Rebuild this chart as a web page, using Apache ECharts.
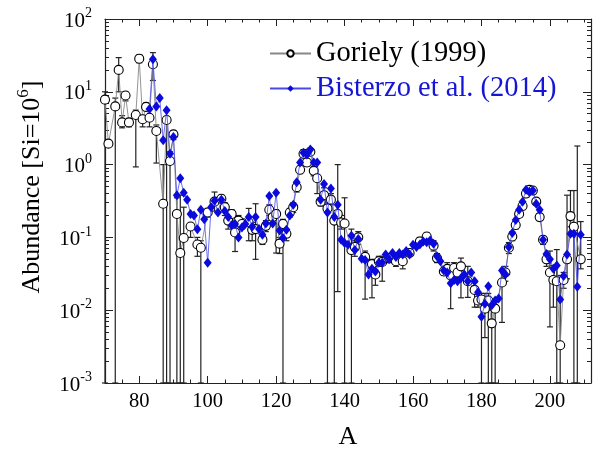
<!DOCTYPE html>
<html>
<head>
<meta charset="utf-8">
<script src="https://cdn.jsdelivr.net/npm/echarts@6/dist/echarts.min.js"></script>
<style>
  html, body { margin: 0; padding: 0; background: #fff; }
  #main { width: 597px; height: 455px; }
</style>
</head>
<body>
<div id="main"></div>
<script>
// mass numbers and abundances
var gorielyA = [70, 71, 73, 74, 75, 76, 77, 79, 80, 81, 82, 83, 84, 85, 87, 88, 89, 90, 91, 92,
  93, 95, 97, 98, 100, 102, 104, 105, 106, 107, 108, 109, 110, 112, 113, 114, 116, 117, 118, 119,
  120, 121, 122, 123, 124, 125, 126, 127, 128, 129, 130, 131, 132, 133, 134, 135, 136, 137, 138, 139,
  140, 142, 143, 144, 146, 148, 149, 150, 151, 153, 155, 157, 159, 162, 164, 166, 167, 169, 170, 171,
  172, 173, 174, 176, 178, 179, 180, 181, 182, 183, 184, 186, 187, 188, 189, 190, 191, 192, 193, 194,
  195, 196, 197, 198, 199, 200, 201, 202, 203, 204, 205, 206, 207, 209];
var gorielyY = [7.8, 1.94, 6.3, 20, 3.8, 8.9, 3.8, 4.8, 28.5, 4.2, 6.2, 4.4, 23.9, 2.9, 0.29, 4.1, 1.12, 2.6, 0.21, 0.061,
  0.098, 0.141, 0.080, 0.072, 0.22, 0.31, 0.34, 0.26, 0.17, 0.21, 0.117, 0.17, 0.153, 0.16, 0.127, 0.13, 0.093, 0.144, 0.24, 0.19,
  0.21, 0.082, 0.153, 0.112, 0.22, 0.26, 0.49, 0.85, 1.41, 1.07, 1.5, 0.82, 0.65, 0.31, 0.38, 0.25, 0.33, 0.17, 0.21, 0.16,
  0.155, 0.067, 0.074, 0.10, 0.054, 0.043, 0.031, 0.047, 0.046, 0.052, 0.047, 0.047, 0.061, 0.088, 0.103, 0.077, 0.052, 0.034, 0.037, 0.030,
  0.038, 0.033, 0.040, 0.025, 0.019, 0.0136, 0.014, 0.0105, 0.0136, 0.0066, 0.0105, 0.024, 0.033, 0.072, 0.103, 0.148, 0.21, 0.27, 0.40, 0.45,
  0.44, 0.31, 0.19, 0.093, 0.05, 0.033, 0.026, 0.025, 0.0033, 0.026, 0.05, 0.196, 0.14, 0.05];

// Goriely error bars: [A, low, high]
var gorielyErr = [
  [70, 0.001, 10], [73, 0.001, 8.2], [74, 10, 29.5], [75, 3.2, 4.7], [76, 7.5, 10], [77, 3.3, 4.3],
  [79, 0.93, 5.6], [80, 25, 32], [81, 3.3, 4.7], [82, 5.5, 7], [83, 3.3, 4.5], [84, 14.3, 34.5],
  [85, 1.05, 3.5], [87, 0.001, 1.0], [88, 0.001, 4.5], [89, 0.001, 1.5], [90, 2.2, 2.9], [91, 0.001, 0.35],
  [92, 0.001, 0.38], [93, 0.001, 0.26], [95, 0.1, 0.155], [97, 0.055, 0.1], [98, 0.001, 0.09], [100, 0.19, 0.25],
  [102, 0.23, 0.42], [104, 0.3, 0.38], [105, 0.2, 0.3], [106, 0.13, 0.2], [107, 0.16, 0.24], [108, 0.064, 0.13],
  [109, 0.14, 0.2], [110, 0.13, 0.18], [112, 0.09, 0.25], [113, 0.09, 0.16], [114, 0.05, 0.29], [116, 0.08, 0.1],
  [117, 0.12, 0.17], [118, 0.2, 0.28], [119, 0.16, 0.22], [120, 0.061, 0.24], [121, 0.06, 0.1], [122, 0.001, 0.177],
  [123, 0.09, 0.13], [124, 0.19, 0.25], [125, 0.22, 0.3], [126, 0.42, 0.56], [127, 0.75, 0.95], [128, 1.25, 1.6],
  [129, 0.95, 1.2], [131, 0.7, 0.95], [132, 0.4, 0.7], [133, 0.27, 0.35], [134, 0.3, 0.48], [135, 0.001, 0.3],
  [136, 0.28, 0.4], [137, 0.001, 0.2], [138, 0.018, 1.0], [139, 0.13, 0.2], [140, 0.001, 0.35], [142, 0.001, 0.13],
  [143, 0.055, 0.09], [144, 0.08, 0.12], [146, 0.0142, 0.065], [148, 0.0148, 0.05], [149, 0.022, 0.036], [150, 0.04, 0.055],
  [151, 0.025, 0.055], [153, 0.045, 0.06], [155, 0.04, 0.055], [157, 0.037, 0.055], [159, 0.055, 0.07], [162, 0.08, 0.1],
  [164, 0.09, 0.115], [166, 0.065, 0.09], [167, 0.045, 0.06], [169, 0.03, 0.04], [170, 0.03, 0.045], [171, 0.0105, 0.038],
  [172, 0.03, 0.045], [173, 0.028, 0.04], [174, 0.0148, 0.052], [176, 0.015, 0.04], [178, 0.011, 0.024], [179, 0.011, 0.017],
  [180, 0.001, 0.017], [181, 0.0042, 0.017], [182, 0.001, 0.017], [183, 0.001, 0.01], [184, 0.001, 0.013], [186, 0.0068, 0.035],
  [187, 0.025, 0.04], [188, 0.06, 0.085], [189, 0.09, 0.12], [190, 0.13, 0.165], [191, 0.19, 0.23], [192, 0.24, 0.3],
  [193, 0.36, 0.44], [195, 0.4, 0.48], [196, 0.28, 0.34], [197, 0.17, 0.21], [198, 0.08, 0.1], [199, 0.04, 0.06],
  [200, 0.0059, 0.065], [201, 0.011, 0.041], [202, 0.001, 0.068], [203, 0.001, 0.03], [204, 0.02, 0.033], [205, 0.027, 0.38],
  [206, 0.14, 0.44], [207, 0.001, 0.44], [208, 0.001, 1.8], [209, 0.037, 0.165]
];

var bisterzoA = [83, 84, 85, 86, 87, 88, 89, 90, 91, 92, 93, 94, 95, 96, 97, 98, 99, 100, 101, 102,
  103, 104, 105, 106, 107, 108, 109, 110, 111, 112, 113, 114, 115, 116, 117, 118, 119, 120, 121, 122,
  123, 124, 125, 126, 127, 128, 129, 130, 131, 132, 133, 134, 135, 136, 137, 138, 139, 140, 141, 142,
  143, 144, 145, 146, 147, 148, 149, 150, 151, 152, 153, 154, 155, 156, 157, 158, 159, 160, 161, 162,
  163, 164, 165, 166, 167, 168, 169, 170, 171, 172, 173, 174, 175, 176, 177, 178, 179, 180, 181, 182,
  183, 184, 185, 186, 187, 188, 189, 190, 191, 192, 193, 194, 195, 196, 197, 198, 199, 200, 201, 202,
  203, 204, 205, 206, 207, 208, 209];
var bisterzoY = [5.8, 27.9, 6.3, 8.2, 2.16, 5.6, 1.41, 2.4, 0.38, 0.65, 0.41, 0.33, 0.21, 0.20, 0.129, 0.24, 0.177, 0.045, 0.26, 0.32,
  0.22, 0.33, 0.23, 0.19, 0.147, 0.153, 0.10, 0.137, 0.153, 0.19, 0.14, 0.19, 0.13, 0.109, 0.155, 0.37, 0.155, 0.41, 0.124, 0.098,
  0.127, 0.20, 0.28, 0.57, 1.07, 1.45, 1.38, 1.61, 1.07, 1.07, 0.33, 0.54, 0.22, 0.47, 0.19, 0.28, 0.093, 0.084, 0.079, 0.105,
  0.067, 0.095, 0.051, 0.049, 0.031, 0.037, 0.034, 0.045, 0.045, 0.058, 0.05, 0.061, 0.054, 0.061, 0.058, 0.065, 0.058, 0.079, 0.074, 0.08,
  0.088, 0.086, 0.091, 0.082, 0.055, 0.047, 0.035, 0.033, 0.0235, 0.026, 0.025, 0.0275, 0.031, 0.025, 0.033, 0.025, 0.0177, 0.0081, 0.0123, 0.0213,
  0.0117, 0.0136, 0.0145, 0.035, 0.031, 0.074, 0.115, 0.173, 0.24, 0.31, 0.45, 0.42, 0.44, 0.29, 0.24, 0.093, 0.059, 0.05, 0.037, 0.041,
  0.014, 0.0295, 0.058, 0.112, 0.112, 0.021, 0.109];

var xMajor = [80, 100, 120, 140, 160, 180, 200];
var xMinor = [75, 85, 90, 95, 105, 110, 115, 125, 130, 135, 145, 150, 155, 165, 170, 175, 185, 190, 195, 205, 210];
var yMajor = [0.001, 0.01, 0.1, 1, 10, 100];
var yMinor = [];
yMajor.slice(0, 5).forEach(function (d) {
  for (var k = 2; k <= 9; k++) yMinor.push(+(d * k).toPrecision(3));
});

var SERIF = 'Liberation Serif';
var AXIS_COLOR = '#222';

function xAxisDef(pos, values, len, withLabels) {
  return {
    type: 'value', position: pos, min: 70, max: 212,
    axisLine: { show: withLabels !== null, lineStyle: { color: AXIS_COLOR, width: 1.2 } },
    axisTick: { inside: true, length: len, customValues: values, lineStyle: { color: AXIS_COLOR, width: 1 } },
    axisLabel: withLabels ? {
      customValues: xMajor, margin: 8, color: '#000', fontSize: 20.5, fontFamily: SERIF
    } : { show: false, customValues: values },
    splitLine: { show: false }
  };
}

function yAxisDef(pos, values, len, withLabels) {
  return {
    type: 'log', logBase: 10, position: pos, min: 0.001, max: 100,
    axisLine: { show: withLabels !== null, lineStyle: { color: AXIS_COLOR, width: 1.2 } },
    axisTick: { inside: true, length: len, customValues: values, lineStyle: { color: AXIS_COLOR, width: 1 } },
    axisLabel: withLabels ? {
      customValues: yMajor, margin: 13,
      formatter: function (v) { return '{b|10}{s|' + Math.round(Math.log10(v)) + '}'; },
      rich: {
        b: { fontSize: 21, fontFamily: SERIF, color: '#000', lineHeight: 25, verticalAlign: 'bottom' },
        s: { fontSize: 14, fontFamily: SERIF, color: '#000', lineHeight: 14, verticalAlign: 'top', padding: [0, 0, 8, 0] }
      }
    } : { show: false, customValues: values },
    splitLine: { show: false }
  };
}

var xAxes = [
  xAxisDef('bottom', xMajor, 7, true),
  xAxisDef('bottom', xMinor, 3.5, null),
  xAxisDef('top', xMajor, 7, false),
  xAxisDef('top', xMinor, 3.5, null)
];
xAxes[0].name = 'A';
xAxes[0].nameLocation = 'middle';
xAxes[0].nameGap = 41;
xAxes[0].nameTextStyle = { fontSize: 26, fontFamily: SERIF, color: '#000' };

var yAxes = [
  yAxisDef('left', yMajor, 8, true),
  yAxisDef('left', yMinor, 4, null),
  yAxisDef('right', yMajor, 8, false),
  yAxisDef('right', yMinor, 4, null)
];
yAxes[0].name = '{a|Abundance [Si=10}{s|6}{a|]}';
yAxes[0].nameLocation = 'middle';
yAxes[0].nameGap = 60;
yAxes[0].nameTextStyle = {
  fontFamily: SERIF,
  fontSize: 26,
  padding: [0, 0, 0, 28],
  rich: {
    a: { fontSize: 26, fontFamily: SERIF, color: '#000', lineHeight: 30, verticalAlign: 'bottom' },
    s: { fontSize: 17, fontFamily: SERIF, color: '#000', lineHeight: 17, verticalAlign: 'top' }
  }
};

function renderErr(params, api) {
  var a = api.value(0);
  var lo = api.coord([a, api.value(1)]);
  var hi = api.coord([a, api.value(2)]);
  var w = 3;
  var st = { stroke: '#222', lineWidth: 1.2 };
  return {
    type: 'group',
    children: [
      { type: 'line', shape: { x1: lo[0], y1: lo[1], x2: hi[0], y2: hi[1] }, style: st },
      { type: 'line', shape: { x1: hi[0] - w, y1: hi[1], x2: hi[0] + w, y2: hi[1] }, style: st },
      { type: 'line', shape: { x1: lo[0] - w, y1: lo[1], x2: lo[0] + w, y2: lo[1] }, style: st }
    ]
  };
}

var chart = echarts.init(document.getElementById('main'), null, { renderer: 'canvas' });
var option = {
  animation: false,
  backgroundColor: '#fff',
  grid: { left: 105, right: 6, top: 19, bottom: 66, containLabel: false },
  xAxis: xAxes,
  yAxis: yAxes,
  legend: {
    orient: 'vertical', left: 264, top: 34, itemGap: 6,
    itemWidth: 41, itemHeight: 8,
    textStyle: { fontSize: 28.5, fontFamily: SERIF },
    data: [
      { name: 'Goriely (1999)', textStyle: { color: '#000' } },
      { name: 'Bisterzo et al. (2014)', textStyle: { color: '#1515d6' } }
    ]
  },
  series: [
    {
      name: 'err', type: 'custom', renderItem: renderErr, z: 1,
      encode: { x: 0, y: [1, 2] },
      data: gorielyErr
    },
    {
      name: 'Goriely (1999)', type: 'line', z: 2,
      data: gorielyA.map(function (a, i) { return [a, gorielyY[i]]; }),
      symbol: 'circle', symbolSize: 9,
      itemStyle: { color: '#fff', borderColor: '#000', borderWidth: 1.1 },
      lineStyle: { color: '#888', width: 0.9 }
    },
    {
      name: 'Bisterzo et al. (2014)', type: 'line', z: 3,
      data: bisterzoA.map(function (a, i) { return [a, bisterzoY[i]]; }),
      symbol: 'diamond', symbolSize: [8, 10],
      itemStyle: { color: '#0a0adc' },
      lineStyle: { color: '#4a4ae8', width: 0.8 }
    }
  ]
};
chart.setOption(option);
</script>
</body>
</html>
